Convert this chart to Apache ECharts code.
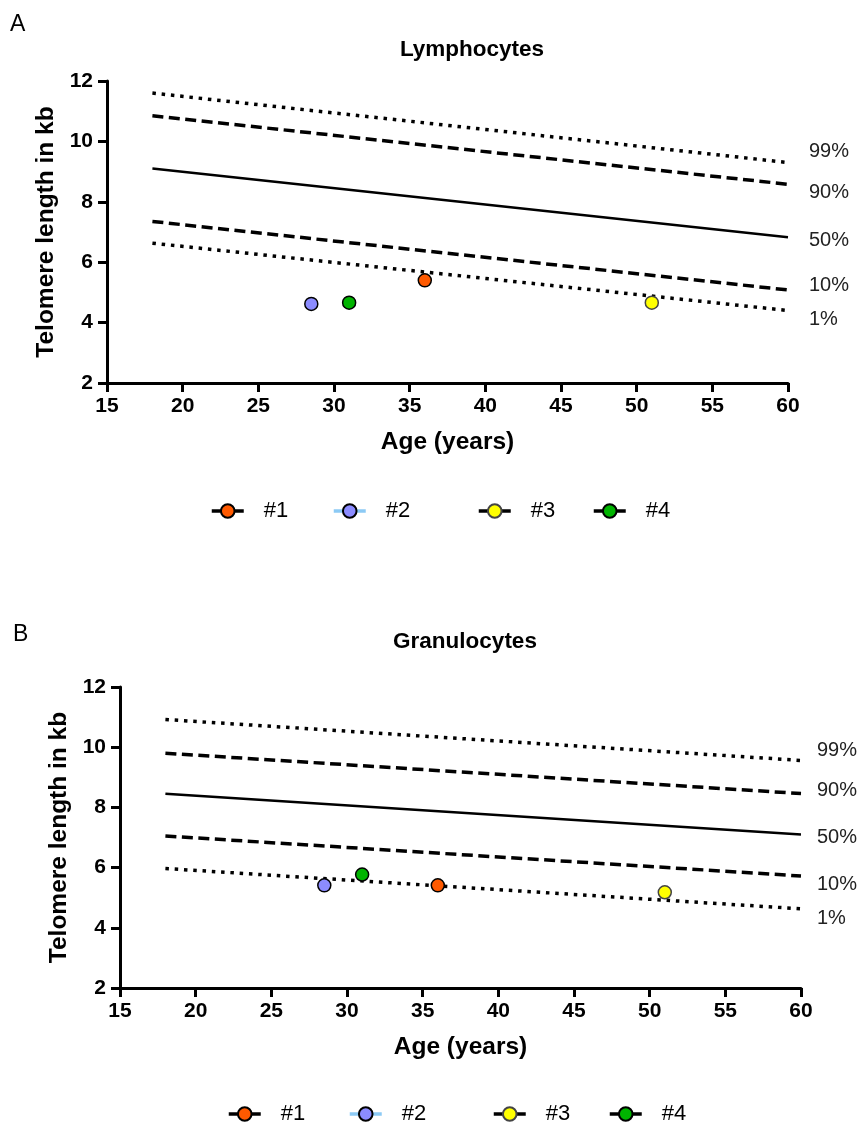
<!DOCTYPE html>
<html><head><meta charset="utf-8">
<script src="https://cdn.jsdelivr.net/npm/echarts@6/dist/echarts.min.js"></script>
<style>html,body{margin:0;padding:0;background:#fff}#c{width:857px;height:1128px}</style>
</head><body><div id="c"></div>
<script>
// ---------- data ----------
const percentileAges = [18, 60];
const percentileNames = ['99%', '90%', '50%', '10%', '1%'];
const lymphP99 = [11.6, 9.3];
const lymphP90 = [10.85, 8.58];
const lymphP50 = [9.1, 6.83];
const lymphP10 = [7.35, 5.08];
const lymphP1 = [6.63, 4.4];
const granP99 = [10.92, 9.56];
const granP90 = [9.8, 8.46];
const granP50 = [8.45, 7.1];
const granP10 = [7.05, 5.72];
const granP1 = [5.97, 4.63];
const patientNames = ['#1', '#2', '#3', '#4'];
const patientAges = [36, 28.5, 51, 31];
const lymphValues = [5.4, 4.62, 4.66, 4.66];
const granValues = [5.41, 5.41, 5.18, 5.77];
const panelTitles = ['Lymphocytes', 'Granulocytes'];
const panelLetters = ['A', 'B'];
const xAxisName = 'Age (years)';
const yAxisName = 'Telomere length in kb';

// ---------- styles / layout ----------
const FONT = "'Liberation Sans', Arial, Helvetica, sans-serif";
const patientFill = ['#ff5a00', '#8c8cff', '#ffff00', '#00b400'];
const patientBorder = ['#000', '#000', '#444', '#000'];
const patientLine = ['#000', '#8ccaf5', '#000', '#000'];
const grids = [
  {left: 107, top: 81, width: 681, height: 302},
  {left: 120, top: 687, width: 681, height: 301}
];
const titlePos = [[472, 50], [465, 642]];
const letterPos = [[10, 25], [13, 635]];
const legendLefts = [[210, 332, 477, 592], [227, 348, 492, 608]];
const legendTops = [500, 1103];
const labelDx = [21, 16];
const labelDy = [[-11, 8, 3, -4, 9], [-10, -3, 3, 8, 10]];

const pctSets = [
  [lymphP99, lymphP90, lymphP50, lymphP10, lymphP1],
  [granP99, granP90, granP50, granP10, granP1]
];
const patientSets = [lymphValues, granValues];

function pctLineStyle(i) {
  if (i === 2) return {color: '#000', width: 2.5, type: 'solid'};
  if (i === 1 || i === 3) return {color: '#000', width: 3.5, type: [11, 5.5]};
  return {color: '#000', width: 3.5, type: [3.5, 5.8]};
}

const xAxes = [], yAxes = [], series = [], legends = [];
for (let g = 0; g < 2; g++) {
  xAxes.push({
    gridIndex: g, type: 'value', min: 15, max: 60, interval: 5,
    name: xAxisName, nameLocation: 'middle', nameGap: 47,
    nameTextStyle: {fontSize: 24.5, fontWeight: 'bold', color: '#000', fontFamily: FONT},
    axisLine: {show: true, onZero: false, lineStyle: {color: '#000', width: 3}},
    axisTick: {show: true, length: 9, lineStyle: {color: '#000', width: 3}},
    axisLabel: {fontSize: 21, fontWeight: 'bold', color: '#000', fontFamily: FONT, margin: 13},
    splitLine: {show: false}
  });
  yAxes.push({
    gridIndex: g, type: 'value', min: 2, max: 12, interval: 2,
    name: yAxisName, nameLocation: 'middle', nameGap: 45,
    nameTextStyle: {fontSize: 24.5, fontWeight: 'bold', color: '#000', fontFamily: FONT},
    axisLine: {show: true, onZero: false, lineStyle: {color: '#000', width: 3}},
    axisTick: {show: true, length: 9, lineStyle: {color: '#000', width: 3}},
    axisLabel: {fontSize: 21, fontWeight: 'bold', color: '#000', fontFamily: FONT, margin: 14},
    splitLine: {show: false}
  });
  pctSets[g].forEach((vals, i) => {
    series.push({
      type: 'line', name: percentileNames[i], xAxisIndex: g, yAxisIndex: g,
      data: percentileAges.map((a, k) => [a, vals[k]]),
      symbol: 'none', silent: true, z: 2, lineStyle: pctLineStyle(i)
    });
  });
  patientNames.forEach((n, p) => {
    series.push({
      type: 'line', name: n, xAxisIndex: g, yAxisIndex: g,
      data: [[patientAges[p], patientSets[g][p]]],
      symbol: 'circle', symbolSize: 13, z: 5,
      itemStyle: {color: patientFill[p], borderColor: patientBorder[p], borderWidth: 1.5},
      lineStyle: {color: patientLine[p], width: 3.5}
    });
    legends.push({
      data: [n], left: legendLefts[g][p], top: legendTops[g], padding: 0,
      itemWidth: 32, itemHeight: 17, selectedMode: false,
      lineStyle: {width: 3.5},
      textStyle: {fontSize: 22, color: '#000', fontFamily: FONT, padding: [0, 0, 0, 15]}
    });
  });
}

const chart = echarts.init(document.getElementById('c'), null, {renderer: 'canvas'});
chart.setOption({
  animation: false,
  backgroundColor: '#fff',
  grid: grids,
  xAxis: xAxes,
  yAxis: yAxes,
  legend: legends,
  series: series
});

// text overlays: titles, panel letters and percentile labels
const graphics = [];
for (let g = 0; g < 2; g++) {
  graphics.push({type: 'text', x: titlePos[g][0], y: titlePos[g][1],
    style: {text: panelTitles[g], align: 'center', verticalAlign: 'middle',
      font: 'bold 22.5px ' + FONT, fill: '#000'}});
  graphics.push({type: 'text', x: letterPos[g][0], y: letterPos[g][1],
    style: {text: panelLetters[g], align: 'left', verticalAlign: 'middle',
      font: '23px ' + FONT, fill: '#000'}});
  pctSets[g].forEach((vals, i) => {
    const end = chart.convertToPixel({gridIndex: g},
      [percentileAges[percentileAges.length - 1], vals[vals.length - 1]]);
    graphics.push({type: 'text', x: end[0] + labelDx[g], y: end[1] + labelDy[g][i],
      style: {text: percentileNames[i], align: 'left', verticalAlign: 'middle',
        font: '20px ' + FONT, fill: '#222'}});
  });
}
chart.setOption({graphic: graphics});
</script></body></html>
